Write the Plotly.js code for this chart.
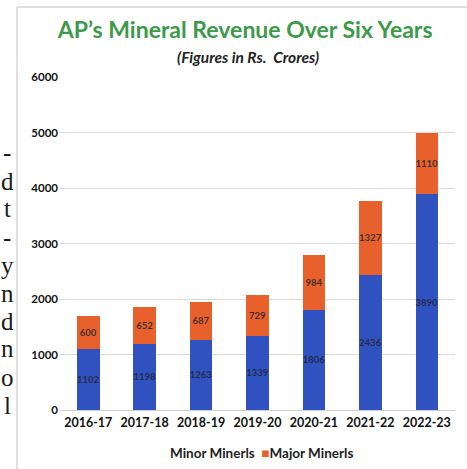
<!DOCTYPE html>
<html>
<head>
<meta charset="utf-8">
<script src="https://cdn.plot.ly/plotly-3.0.1.min.js"></script>
<style>
html,body{margin:0;padding:0;background:#fff;}
#chart{width:467px;height:469px;}
</style>
</head>
<body>
<div id="chart"></div>
<script>
var years = ["2016-17","2017-18","2018-19","2019-20","2020-21","2021-22","2022-23"];
var minorMinerals = [1102,1198,1263,1339,1806,2436,3890];
var majorMinerals = [600,652,687,729,984,1327,1110];
var yTicks = [0,1000,2000,3000,4000,5000,6000];
var seriesNames = ["Minor Minerls","Major Minerls"];
var seriesColors = ["#2f52c0","#e8612c"];
var sideText = ["-","d","t","-","y","n","d","n","o","l"];

var W = 467, H = 469, mL = 60, mR = 12, mT = 77, mB = 59;
var pw = W - mL - mR, ph = H - mT - mB;
function px(x){ return (x - mL) / pw; }
function py(y){ return (H - mB - y) / ph; }

var labelFont = {family:"Lato, 'Open Sans', sans-serif", size:9.5, color:"rgba(35,35,50,0.85)", weight:"bold"};

var traces = [
  {type:"bar", name:seriesNames[0], x:years, y:minorMinerals, text:minorMinerals.map(String),
   textposition:"inside", insidetextanchor:"middle", constraintext:"none", textangle:0,
   textfont:labelFont, marker:{color:seriesColors[0]}, showlegend:false},
  {type:"bar", name:seriesNames[1], x:years, y:majorMinerals, text:majorMinerals.map(String),
   textposition:"inside", insidetextanchor:"middle", constraintext:"none", textangle:0,
   textfont:labelFont, marker:{color:seriesColors[1]}, showlegend:false}
];

var sideYs = [152,181,209,237,265,293,321,348,377,405];
var annotations = sideText.map(function(t,i){
  return {xref:"paper", yref:"paper", x:px(7), y:py(sideYs[i]), xanchor:"center", yanchor:"middle",
          text:t, showarrow:false, font:{family:"'Liberation Serif', 'DejaVu Serif', serif", size:25, color:"#1a1a1a"}};
});
annotations.push({xref:"paper", yref:"paper", x:px(248), y:py(57), xanchor:"center", yanchor:"middle",
  text:"<b><i>(Figures in Rs.  Crores)</i></b>", showarrow:false,
  font:{family:"Lato, 'Open Sans', sans-serif", size:15.5, color:"#222"}});
annotations.push({xref:"paper", yref:"paper", x:px(261), y:py(453), xanchor:"center", yanchor:"middle",
  text:"<b>" + seriesNames[0] + "  <span style='color:" + seriesColors[1] + "'>■</span>" + seriesNames[1] + "</b>",
  showarrow:false, font:{family:"Lato, 'Open Sans', sans-serif", size:13.5, color:"#222"}});

var layout = {
  width:W, height:H,
  margin:{l:mL, r:mR, t:mT, b:mB},
  paper_bgcolor:"#fff", plot_bgcolor:"#fff",
  barmode:"stack", bargap:0.6, showlegend:false,
  title:{text:"<b>AP’s Mineral Revenue Over Six Years</b>", x:0.525, xanchor:"center", y:1-30/H, yanchor:"middle",
         font:{family:"Lato, 'Open Sans', sans-serif", size:23, color:"#3d9a4b"}},
  xaxis:{type:"category", showgrid:false, zeroline:false, showline:false, ticks:"",
         tickfont:{family:"Lato, 'Open Sans', sans-serif", size:12.5, color:"#111", weight:"bold"}, ticklabelstandoff:3},
  yaxis:{range:[0,6000], tickvals:yTicks, ticktext:yTicks.map(String), showgrid:true, gridcolor:"#d9d9d9", gridwidth:1,
         zeroline:true, zerolinecolor:"#d0d0d0", showline:false, ticks:"",
         tickfont:{family:"Lato, 'Open Sans', sans-serif", size:11.5, color:"#111", weight:"bold"}, ticklabelstandoff:1},
  annotations:annotations,
  shapes:[
    {type:"line", xref:"paper", yref:"paper", x0:px(17), x1:px(17), y0:py(7), y1:py(469), line:{color:"#d6d6d6", width:1.5}},
    {type:"line", xref:"paper", yref:"paper", x0:px(17), x1:px(467), y0:py(7), y1:py(7), line:{color:"#d6d6d6", width:1.5}}
  ]
};

Plotly.newPlot("chart", traces, layout, {displayModeBar:false, staticPlot:true});
</script>
</body>
</html>
